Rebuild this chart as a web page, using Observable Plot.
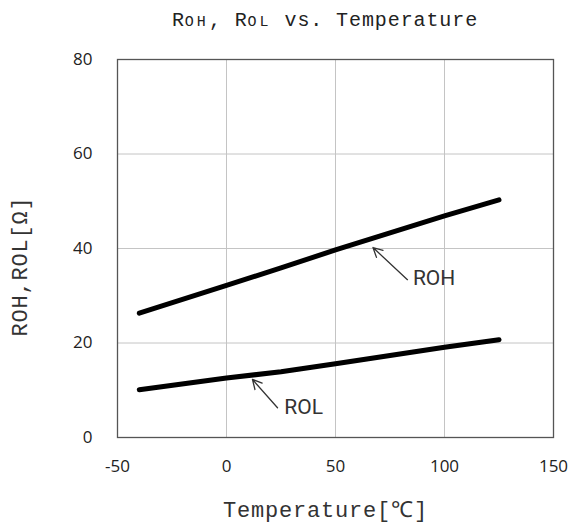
<!DOCTYPE html>
<html>
<head>
<meta charset="utf-8">
<script src="https://cdn.jsdelivr.net/npm/d3@7"></script>
<script src="https://cdn.jsdelivr.net/npm/@observablehq/plot@0.6"></script>
<style>
  body { margin: 0; background: white; }
  #title { height: 40px; line-height: 40px; width: 571px; text-align: center; padding-left: 79px; padding-top: 1px;
    font-family: "Liberation Mono", "DejaVu Sans Mono", monospace; font-size: 20px; letter-spacing: 0.9px; color: #222; box-sizing: border-box; }
  #title small { font-size: 15px; letter-spacing: 3px; }
</style>
</head>
<body>
<div id="title">R<small>OH</small>, R<small>OL</small> vs. Temperature</div>
<div id="chart"></div>
<script>
const temps = [-40, 0, 25, 50, 100, 125];
const roh = [26.3, 32.2, 35.9, 39.7, 46.9, 50.3];
const rol = [10.1, 12.6, 13.9, 15.6, 19.1, 20.7];
const xTicks = [-50, 0, 50, 100, 150];
const yTicks = [0, 20, 40, 60, 80];
const xLabel = "Temperature[℃]";
const yLabel = "ROH,ROL[Ω]";
const annLabels = ["ROH", "ROL"];
const annTextX = [85.5, 26.5];
const annTextY = [33.6, 6.3];
const annTipX = [67.2, 11.9];
const annTipY = [40.2, 12.3];
const annTailX = [83, 23.4];
const annTailY = [33.4, 6.3];

const rows = [];
temps.forEach((t, i) => rows.push({t, v: roh[i], s: "ROH"}));
temps.forEach((t, i) => rows.push({t, v: rol[i], s: "ROL"}));
const ann = annLabels.map((l, i) => ({l, tx: annTextX[i], ty: annTextY[i], x1: annTailX[i], y1: annTailY[i], x2: annTipX[i], y2: annTipY[i]}));

const labelFont = "'Liberation Mono', 'DejaVu Sans Mono', monospace";
const chart = Plot.plot({
  width: 571, height: 489,
  marginLeft: 117, marginRight: 18, marginTop: 19, marginBottom: 92,
  style: {fontFamily: "'Open Sans', sans-serif", fontSize: "17px", color: "#222", background: "white", overflow: "visible"},
  x: {domain: [-50, 150]},
  y: {domain: [0, 80]},
  marks: [
    Plot.gridX(xTicks, {stroke: "#c4c4c4", strokeOpacity: 1, strokeWidth: 1}),
    Plot.gridY(yTicks, {stroke: "#c4c4c4", strokeOpacity: 1, strokeWidth: 1}),
    Plot.frame({stroke: "#555", strokeWidth: 1.3}),
    Plot.axisX(xTicks, {tickSize: 0, tickPadding: 22, label: null, tickFormat: d => String(d)}),
    Plot.axisY(yTicks, {tickSize: 0, tickPadding: 25, label: null, tickFormat: d => String(d)}),
    Plot.text([xLabel], {frameAnchor: "bottom", textAnchor: "middle", dx: -10, dy: 72, text: d => d, fontFamily: labelFont, fontSize: 22, fill: "#333", lineAnchor: "middle"}),
    Plot.text([yLabel], {frameAnchor: "left", textAnchor: "middle", dx: -98, dy: 18, rotate: -90, text: d => d, fontFamily: labelFont, fontSize: 22, fill: "#333", lineAnchor: "middle"}),
    Plot.line(rows, {x: "t", y: "v", z: "s", stroke: "black", strokeWidth: 5, strokeLinecap: "round", strokeLinejoin: "round"}),
    Plot.arrow(ann, {x1: "x1", y1: "y1", x2: "x2", y2: "y2", stroke: "#333", strokeWidth: 1.3, headLength: 12, headAngle: 55, inset: 0}),
    Plot.text(ann, {x: "tx", y: "ty", text: "l", textAnchor: "start", fontSize: 21, fontFamily: "Roboto, 'Liberation Sans', sans-serif", fill: "#333"})
  ]
});
d3.select(chart).selectAll("text").each(function() {
  const t = this.textContent;
  if (t === xLabel || t === yLabel) this.style.letterSpacing = "0.8px";
});
document.getElementById("chart").appendChild(chart);
</script>
</body>
</html>
